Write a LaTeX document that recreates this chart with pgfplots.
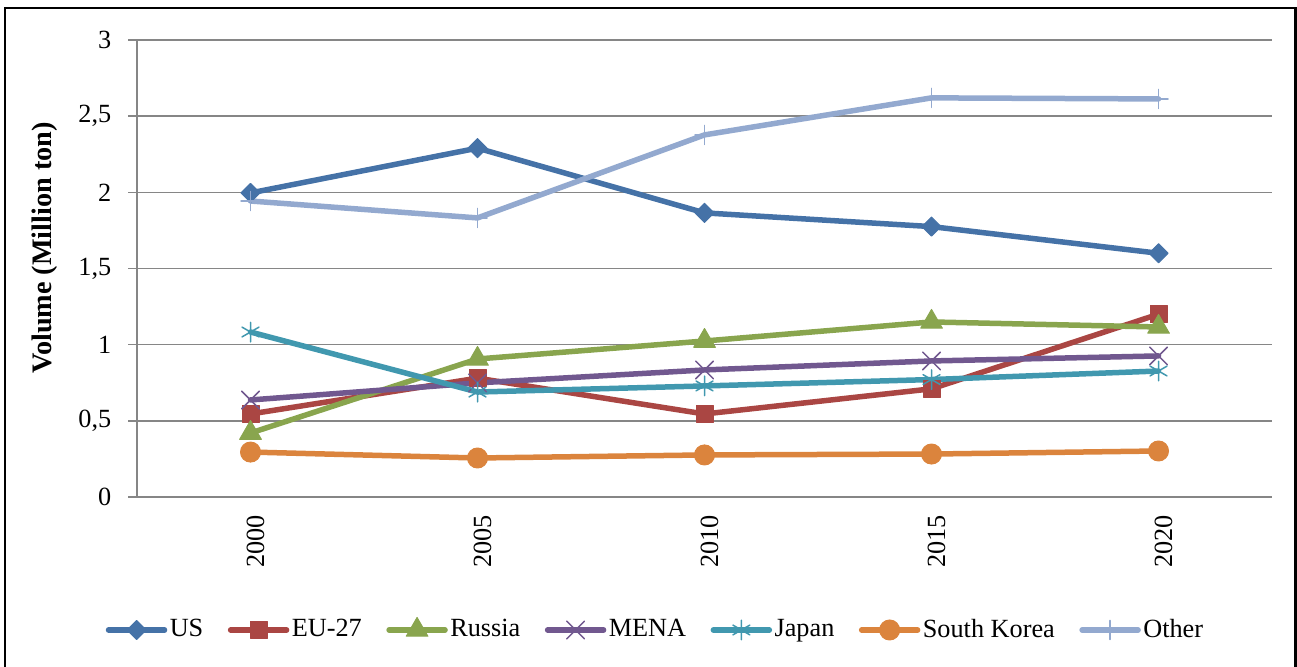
\documentclass[border=0pt]{standalone}
\usepackage{pgfplots}
\pgfplotsset{compat=1.18}
\usepackage{fontspec}
\setmainfont{Liberation Serif}
\definecolor{cUS}{HTML}{4572A7}
\definecolor{cEU}{HTML}{AA4643}
\definecolor{cRU}{HTML}{89A54E}
\definecolor{cME}{HTML}{71588F}
\definecolor{cJP}{HTML}{4198AF}
\definecolor{cSK}{HTML}{DB843D}
\definecolor{cOT}{HTML}{93A9CF}
\definecolor{cGrid}{HTML}{868686}
\begin{document}
\fontsize{10.5}{12.5}\selectfont
\begin{tikzpicture}[x=0.4pt,y=0.4pt]
\path[use as bounding box] (0,0) rectangle (1297,666);
\draw[line width=1.1pt] (5,-5) rectangle (1295.5,658);
\begin{axis}[
  at={(54.8pt,67.6pt)}, anchor=south west,
  scale only axis, width=454pt, height=182.8pt,
  xmin=-0.5, xmax=4.5, ymin=0, ymax=3,
  axis lines*=left,
  axis line style={cGrid, line width=0.6pt},
  xtick={0,1,2,3,4},
  xticklabels={2000,2005,2010,2015,2020},
  minor xtick={-0.5,0.5,1.5,2.5,3.5,4.5},
  ytick={0,0.5,1,1.5,2,2.5,3},
  tick align=outside,
  major tick length=3.6pt,
  minor tick length=3.6pt,
  xtick style={draw=none},
  minor tick style={cGrid, line width=0.6pt},
  ytick style={cGrid, line width=0.6pt},
  ymajorgrids,
  grid style={cGrid, line width=0.6pt},
  /pgf/number format/use comma,
  /pgf/number format/assume math mode=true,
  ticklabel style={font=\fontsize{10.5}{12.5}\selectfont},
  yticklabel style={xshift=-3pt},
  xticklabel style={rotate=90, anchor=east, yshift=-2pt},
  ylabel={\textbf{Volume (Million ton)}},
  ylabel style={at={(axis description cs:-0.081,0.545)}, anchor=center, font=\fontsize{11.3}{13.5}\selectfont},
  legend columns=7,
  legend style={draw=none, fill=none, at={(0.457,-0.291)}, anchor=center,
    font=\fontsize{10.5}{12.5}\selectfont,
    nodes={inner xsep=1pt},
    /tikz/every even column/.append style={column sep=8.8pt}},
  legend image code/.code={\draw[mark repeat=2,mark phase=2] plot coordinates {(0pt,0pt) (11.2pt,0pt) (22.4pt,0pt)};},
  every axis plot/.append style={line width=2.2pt, line join=round, line cap=round},
]
\addplot[cUS, mark=square*, mark size=2.7pt, mark options={rotate=45, line width=0.4pt}] coordinates {(0,1.996) (1,2.29) (2,1.865) (3,1.775) (4,1.60)};
\addlegendentry{US}
\addplot[cEU, mark=square*, mark size=3.4pt, mark options={line width=0.4pt}] coordinates {(0,0.545) (1,0.78) (2,0.545) (3,0.71) (4,1.20)};
\addlegendentry{EU-27}
\addplot[cRU, mark=triangle*, mark size=5pt, mark options={line width=0.4pt}] coordinates {(0,0.42) (1,0.906) (2,1.024) (3,1.149) (4,1.116)};
\addlegendentry{Russia}
\addplot[cME, mark=x, mark size=5pt, mark options={line width=0.6pt}] coordinates {(0,0.637) (1,0.749) (2,0.834) (3,0.893) (4,0.926)};
\addlegendentry{MENA}
\addplot[cJP, mark=asterisk, mark size=3.9pt, mark options={line width=0.6pt}] coordinates {(0,1.083) (1,0.689) (2,0.729) (3,0.771) (4,0.827)};
\addlegendentry{Japan}
\addplot[cSK, mark=*, mark size=4pt, mark options={line width=0.4pt}] coordinates {(0,0.295) (1,0.256) (2,0.276) (3,0.282) (4,0.302)};
\addlegendentry{South Korea}
\addplot[cOT, mark=+, mark size=3.8pt, mark options={line width=0.6pt}] coordinates {(0,1.943) (1,1.832) (2,2.377) (3,2.62) (4,2.613)};
\addlegendentry{Other}
\end{axis}
\end{tikzpicture}
\end{document}
